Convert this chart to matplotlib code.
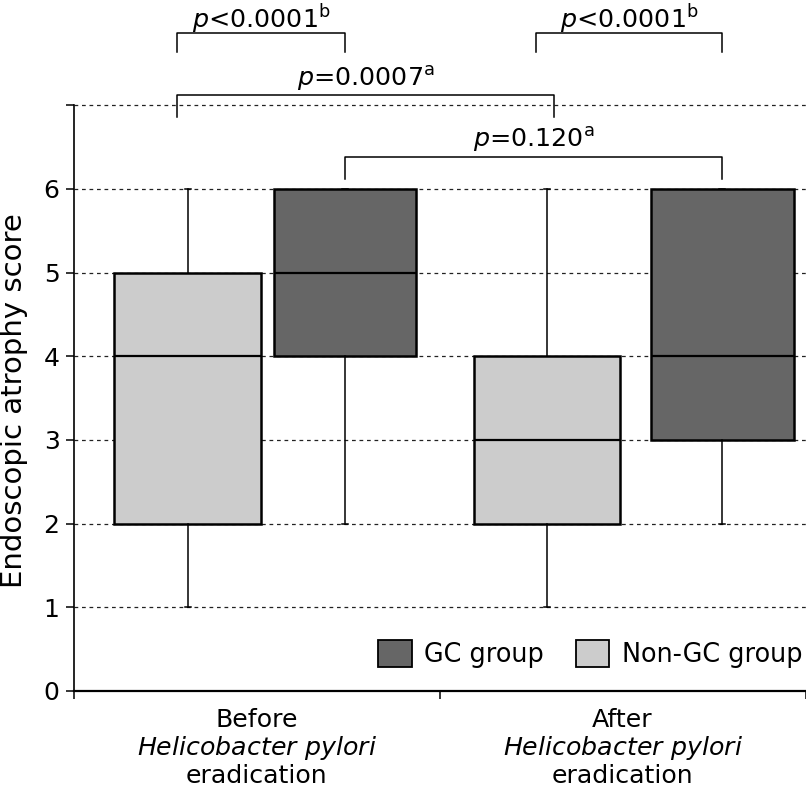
import matplotlib
matplotlib.use("Agg")
import matplotlib.pyplot as plt
from matplotlib.patches import Patch

plt.rcParams['font.family'] = ['DejaVu Sans']
plt.rcParams['mathtext.fontset'] = 'dejavusans'

# ---- data ----
groups = ['Before', 'After']
group_labels = ['Before\n$\\it{Helicobacter\\ pylori}$\neradication',
                'After\n$\\it{Helicobacter\\ pylori}$\neradication']
series = ['GC group', 'Non-GC group']

nongc_whislo = [1, 1]
nongc_q1 = [2, 2]
nongc_med = [4, 3]
nongc_q3 = [5, 4]
nongc_whishi = [6, 6]

gc_whislo = [2, 2]
gc_q1 = [4, 3]
gc_med = [5, 4]
gc_q3 = [6, 6]
gc_whishi = [6, 6]

yticks = [0, 1, 2, 3, 4, 5, 6, 7]
ytick_labels = ['0', '1', '2', '3', '4', '5', '6', '']

# significance annotations: (x1, x2, y_top, y_leg, text, y_text)
annotations = [
    (0.284, 0.742, 7.868, 7.634, r'$p$<0.0001$^{\mathrm{b}}$', 7.925),
    (1.264, 1.773, 7.868, 7.634, r'$p$<0.0001$^{\mathrm{b}}$', 7.925),
    (0.284, 1.314, 7.120, 6.857, r'$p$=0.0007$^{\mathrm{a}}$', 7.235),
    (0.742, 1.773, 6.386, 6.116, r'$p$=0.120$^{\mathrm{a}}$', 6.50),
]

# ---- style ----
gc_color = '#666666'
nongc_color = '#cccccc'
nongc_pos = [0.312, 1.294]
gc_pos = [0.742, 1.773]

fig = plt.figure(figsize=(8.06, 7.90), dpi=100)
ax = fig.add_axes([73.5 / 806, 99 / 790, 732 / 806, 691 / 790])


def stats(lo, q1, med, q3, hi):
    return [dict(whislo=a, q1=b, med=c, q3=d, whishi=e, fliers=[])
            for a, b, c, d, e in zip(lo, q1, med, q3, hi)]


box_kw = dict(showfliers=False, patch_artist=True, manage_ticks=False,
              medianprops=dict(color='black', linewidth=1.6),
              whiskerprops=dict(color='black', linewidth=1.1),
              capprops=dict(color='black', linewidth=1.1),
              capwidths=0.016, zorder=3)

b1 = ax.bxp(stats(nongc_whislo, nongc_q1, nongc_med, nongc_q3, nongc_whishi),
            positions=nongc_pos, widths=0.40,
            boxprops=dict(facecolor=nongc_color, edgecolor='black', linewidth=1.8),
            **box_kw)
b2 = ax.bxp(stats(gc_whislo, gc_q1, gc_med, gc_q3, gc_whishi),
            positions=gc_pos, widths=0.39,
            boxprops=dict(facecolor=gc_color, edgecolor='black', linewidth=1.8),
            **box_kw)

ax.set_xlim(0, 2)
ax.set_ylim(0, 8.258)

ax.set_yticks(yticks)
ax.set_yticklabels(ytick_labels)
ax.yaxis.grid(True, linestyle=(0, (3, 3)), color='#222222', linewidth=0.9, zorder=0)
ax.set_axisbelow(True)

ax.set_xticks([0, 1, 2])
ax.set_xticklabels(['', '', ''])
ax.set_xticks([0.5, 1.5], minor=True)
ax.set_xticklabels(group_labels, minor=True, fontsize=18.2, linespacing=1.12)
ax.tick_params(axis='x', which='minor', length=0, pad=12)
ax.tick_params(axis='x', which='major', length=6, width=1.1, direction='out')
ax.tick_params(axis='y', length=6, width=1.1, direction='out', labelsize=18, pad=4)

for s in ['top', 'right']:
    ax.spines[s].set_visible(False)
ax.spines['left'].set_bounds(0, 7)
ax.spines['left'].set_linewidth(1.2)
ax.spines['bottom'].set_linewidth(1.6)

ax.set_ylabel('Endoscopic atrophy score', fontsize=21)
ax.yaxis.set_label_coords(-0.062, 0.42)

for x1, x2, yt, yl, txt, ytxt in annotations:
    ax.plot([x1, x1, x2, x2], [yl, yt, yt, yl], color='black', linewidth=1.1,
            clip_on=False, zorder=4)
    ax.text((x1 + x2) / 2, ytxt, txt, ha='center', va='baseline', fontsize=18.3)

handles = [Patch(facecolor=gc_color, edgecolor='black', linewidth=1.3, label=series[0]),
           Patch(facecolor=nongc_color, edgecolor='black', linewidth=1.3, label=series[1])]
ax.legend(handles=handles, ncol=2, loc='center right',
          bbox_to_anchor=(1.992, 0.44), bbox_transform=ax.transData,
          frameon=False, fontsize=18.4, handlelength=1.3, handleheight=1.2,
          handletextpad=0.5, columnspacing=1.25, borderpad=0, borderaxespad=0)

fig.savefig('out.png', dpi=100)
